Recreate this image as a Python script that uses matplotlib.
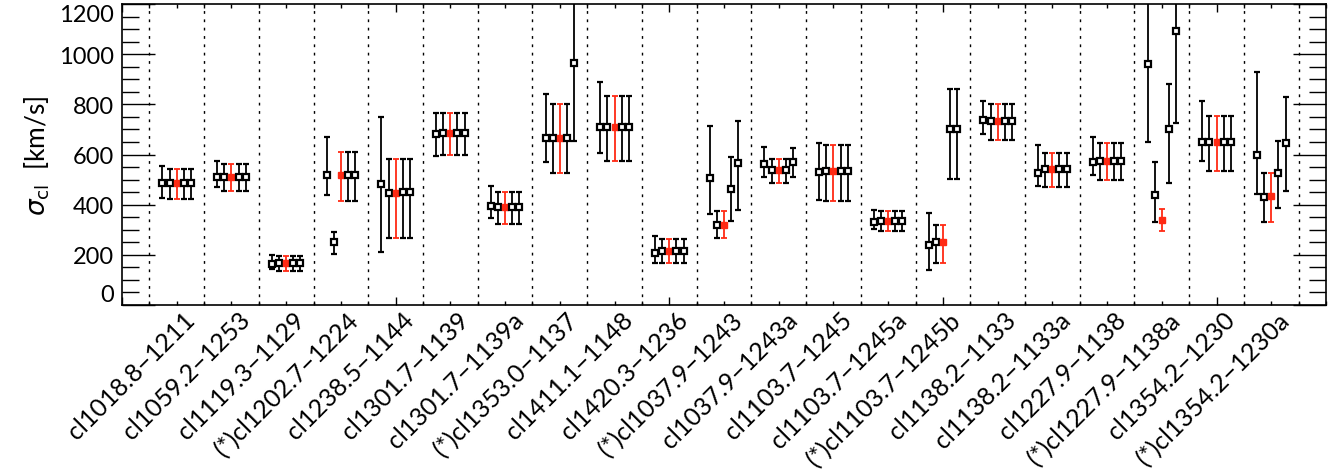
import numpy as np
import matplotlib.pyplot as plt

names = ['cl1018.8−1211', 'cl1059.2−1253', 'cl1119.3−1129', '(*)cl1202.7−1224',
         'cl1238.5−1144', 'cl1301.7−1139', 'cl1301.7−1139a', '(*)cl1353.0−1137',
         'cl1411.1−1148', 'cl1420.3−1236', '(*)cl1037.9−1243', 'cl1037.9−1243a',
         'cl1103.7−1245', 'cl1103.7−1245a', '(*)cl1103.7−1245b', 'cl1138.2−1133',
         'cl1138.2−1133a', 'cl1227.9−1138', '(*)cl1227.9−1138a', 'cl1354.2−1230',
         '(*)cl1354.2−1230a']

# velocity dispersion per cluster, 5 estimates each (the 3rd one is the red one)
sigma = [[486, 486, 486, 486, 486],
         [510, 510, 510, 510, 510],
         [165, 167, 167, 167, 167],
         [519, 252, 519, 519, 519],
         [482, 447, 447, 450, 450],
         [681, 686, 686, 686, 686],
         [393, 390, 390, 390, 390],
         [664, 664, 664, 664, 965],
         [709, 709, 709, 709, 709],
         [208, 217, 217, 217, 217],
         [507, 320, 320, 464, 566],
         [563, 538, 538, 538, 570],
         [532, 534, 534, 534, 534],
         [329, 336, 336, 336, 336],
         [241, 251, 251, 703, 703],
         [737, 733, 733, 733, 733],
         [528, 542, 542, 542, 542],
         [572, 573, 573, 573, 573],
         [960, 438, 339, 702, 1091],
         [649, 648, 648, 648, 648],
         [600, 432, 434, 526, 645]]

sig_lo = [[427, 422, 422, 422, 422],
          [470, 454, 454, 454, 454],
          [145, 137, 137, 137, 137],
          [440, 204, 414, 414, 414],
          [213, 267, 267, 267, 267],
          [595, 600, 600, 600, 600],
          [346, 321, 321, 321, 321],
          [571, 527, 527, 527, 654],
          [604, 576, 576, 576, 576],
          [167, 167, 167, 167, 167],
          [361, 268, 268, 334, 378],
          [510, 488, 488, 488, 512],
          [418, 413, 413, 413, 413],
          [301, 295, 295, 295, 295],
          [138, 167, 167, 503, 503],
          [681, 656, 656, 656, 656],
          [474, 470, 470, 470, 470],
          [518, 499, 499, 499, 499],
          [648, 331, 295, 488, 727],
          [576, 536, 536, 536, 536],
          [442, 329, 329, 388, 454]]

sig_hi = [[556, 544, 544, 544, 544],
          [575, 563, 563, 563, 563],
          [198, 194, 194, 194, 194],
          [669, 293, 608, 608, 608],
          [749, 581, 581, 581, 581],
          [767, 767, 767, 767, 767],
          [476, 452, 452, 452, 452],
          [840, 800, 800, 800, 1400],
          [888, 835, 835, 835, 835],
          [276, 263, 263, 263, 263],
          [713, 374, 374, 592, 733],
          [628, 583, 583, 583, 627],
          [645, 636, 636, 636, 636],
          [378, 373, 373, 373, 373],
          [368, 317, 317, 863, 863],
          [813, 803, 803, 803, 803],
          [637, 604, 604, 604, 604],
          [669, 644, 644, 644, 644],
          [1400, 570, 382, 883, 1400],
          [814, 753, 753, 753, 753],
          [930, 528, 528, 654, 830]]

plt.rcParams['font.family'] = ['Lato', 'DejaVu Sans']

fig = plt.figure(figsize=(13.42, 4.77), dpi=100)
ax = fig.add_axes([122/1342, 1 - 306/477, (1326 - 122)/1342, 301/477])

red = '#ff2a14'
offs = [-0.26, -0.13, 0.0, 0.13, 0.26]
for i in range(len(names)):
    for j in range(5):
        x = i + 1 + offs[j]
        v = sigma[i][j]
        err = [[v - sig_lo[i][j]], [sig_hi[i][j] - v]]
        if j == 2:
            ax.errorbar(x, v, yerr=err, fmt='s', color=red, ms=5, mfc=red,
                        mec=red, ecolor=red, elinewidth=1.3, capsize=2.5, capthick=1.3)
        else:
            ax.errorbar(x, v, yerr=err, fmt='s', color='black', ms=5, mfc='white',
                        mec='black', mew=1.6, ecolor='black', elinewidth=1.3,
                        capsize=2.5, capthick=1.3)

for i in range(len(names) + 1):
    ax.axvline(i + 0.5, color='black', ls=(0, (2, 4)), lw=1)

ax.set_xlim(0, 22)
ax.set_ylim(0, 1200)
ax.set_xticks(np.arange(0, 23, 5))
ax.set_xticks(np.arange(0, 22.01, 0.5), minor=True)
ax.set_xticklabels([])
ax.set_yticks(np.arange(0, 1201, 200))
ax.set_yticks(np.arange(0, 1201, 50), minor=True)
ax.tick_params(axis='y', which='major', length=24, width=1, direction='in', right=True, labelsize=17, pad=6)
ax.tick_params(axis='y', which='minor', length=12, width=1, direction='in', right=True)
ax.tick_params(axis='x', which='major', length=6, width=1, direction='in', top=True)
ax.tick_params(axis='x', which='minor', length=3, width=1, direction='in', top=True)
for s in ax.spines.values():
    s.set_linewidth(1.2)
ylabs = ax.get_yticklabels()
ylabs[0].set_verticalalignment('bottom')
ylabs[-1].set_verticalalignment('top')

for i, nm in enumerate(names):
    ax.text(i + 1 + 0.12, -10, nm, rotation=45, ha='right', va='top',
            rotation_mode='anchor', fontsize=18, transform=ax.transData)

ax.set_ylabel(r'$\sigma_{\rm cl}$  [km/s]', fontsize=19, labelpad=5)

fig.savefig('out.png', dpi=100)
